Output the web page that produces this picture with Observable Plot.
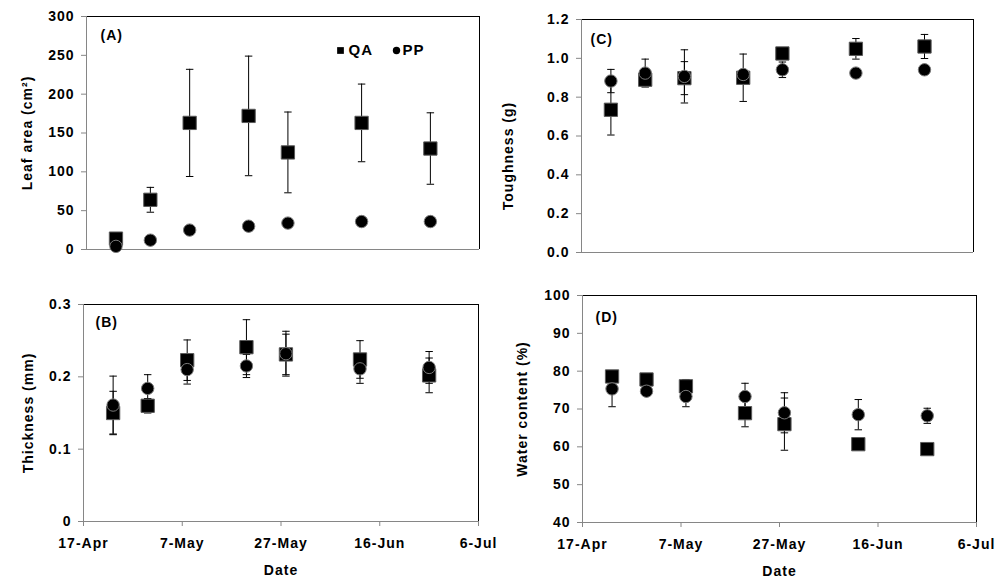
<!DOCTYPE html>
<html><head><meta charset="utf-8">
<script src="https://cdn.jsdelivr.net/npm/d3@7"></script>
<script src="https://cdn.jsdelivr.net/npm/@observablehq/plot@0.6"></script>
<style>
body{margin:0;background:#fff;}
#wrap{position:relative;width:1004px;height:582px;overflow:hidden;background:#fff;}
#wrap svg{position:absolute;}
#wrap svg text{letter-spacing:1px;}
</style></head><body><div id="wrap"></div>
<script>
// ---- data ----
const dates = ["2013-04-23","2013-04-30","2013-05-08","2013-05-20","2013-05-28","2013-06-12","2013-06-26"];
const xTickDates = ["2013-04-17","2013-05-07","2013-05-27","2013-06-16","2013-07-06"];
const seriesNames = ["QA", "PP"];

const leafQA   = [14, 64, 163, 172, 125, 163, 130];
const leafQAsd = [4, 16, 69, 77, 52, 50, 46];
const leafPP   = [4, 12, 25, 30, 34, 36, 36];
const leafPPsd = [2, 2, 3, 6, 4, 3, 3];
const leafTicks = [0, 50, 100, 150, 200, 250, 300];

const thickQA   = [0.150, 0.160, 0.223, 0.241, 0.231, 0.224, 0.202];
const thickQAsd = [0.030, 0.010, 0.028, 0.038, 0.028, 0.026, 0.024];
const thickPP   = [0.161, 0.184, 0.210, 0.215, 0.232, 0.211, 0.213];
const thickPPsd = [0.040, 0.019, 0.020, 0.016, 0.031, 0.020, 0.022];
const thickTicks = [0, 0.1, 0.2, 0.3];

const toughQA   = [0.735, 0.890, 0.898, 0.900, 1.025, 1.049, 1.061];
const toughQAsd = [0.130, 0.030, 0.085, 0.122, 0.030, 0.053, 0.062];
const toughPP   = [0.883, 0.924, 0.907, 0.917, 0.941, 0.924, 0.941];
const toughPPsd = [0.060, 0.072, 0.137, 0.010, 0.040, 0.010, 0.010];
const toughTicks = [0, 0.2, 0.4, 0.6, 0.8, 1.0, 1.2];

const waterQA   = [78.6, 77.8, 76.0, 68.9, 66.0, 60.7, 59.4];
const waterQAsd = [1.0, 1.0, 1.8, 3.6, 6.9, 1.0, 0.5];
const waterPP   = [75.3, 74.7, 73.3, 73.3, 69.0, 68.5, 68.2];
const waterPPsd = [4.7, 1.0, 2.7, 3.5, 5.3, 4.0, 2.0];
const waterTicks = [40, 50, 60, 70, 80, 90, 100];

// ---- drawing ----
const GRAY = "#868686";
const FONT = "Liberation Sans, Arial, sans-serif";
const capSymbol = {draw(ctx, size) { const w = Math.sqrt(size) / 2; ctx.moveTo(-w, 0); ctx.lineTo(w, 0); }};
const xTicks = xTickDates.map(d => new Date(d));
const xDomain = [xTicks[0], xTicks[xTicks.length - 1]];
const fmtDate = d3.utcFormat("%-d-%b");

function panel(o) {
  const rows = dates.map((d, i) => ({date: new Date(d), qa: o.qa[i], qaSd: o.qaSd[i], pp: o.pp[i], ppSd: o.ppSd[i]}));
  const marks = [
    Plot.ruleY([o.yDomain[1]], {stroke: "black"}),
    Plot.ruleX([xDomain[1]], {stroke: "black"}),
    Plot.ruleY([o.yDomain[0]], {stroke: GRAY}),
    Plot.ruleX([xDomain[0]], {stroke: GRAY}),
    Plot.axisY({ticks: o.yTicks, tickFormat: o.yFormat, tickSize: 5, tickPadding: 7, stroke: GRAY, fill: "black", label: null, fontSize: 14, fontWeight: "bold"}),
  ];
  if (o.showX) {
    marks.push(Plot.axisX({ticks: xTicks, tickFormat: fmtDate, tickSize: 5, tickPadding: 12, stroke: GRAY, fill: "black", label: null, fontSize: 14, fontWeight: "bold"}));
    marks.push(Plot.text(["Date"], {text: d => d, frameAnchor: "bottom", dy: 49, textAnchor: "middle", lineAnchor: "middle", fontSize: 14, fontWeight: "bold"}));
  }
  // error bars (beneath markers)
  for (const k of ["qa", "pp"]) {
    const sd = k + "Sd";
    marks.push(Plot.ruleX(rows, {x: "date", y1: d => d[k] - d[sd], y2: d => d[k] + d[sd], stroke: "black", strokeWidth: 1}));
    marks.push(Plot.dot(rows, {x: "date", y: d => d[k] + d[sd], symbol: capSymbol, r: 4.2, stroke: "black", fill: "none", strokeWidth: 1}));
    marks.push(Plot.dot(rows, {x: "date", y: d => d[k] - d[sd], symbol: capSymbol, r: 4.2, stroke: "black", fill: "none", strokeWidth: 1}));
  }
  marks.push(Plot.dot(rows, {x: "date", y: "qa", symbol: "square", r: 7.5, fill: "black", stroke: "#5a5a5a", strokeWidth: 1}));
  marks.push(Plot.dot(rows, {x: "date", y: "pp", symbol: "circle", r: 6.2, fill: "black", stroke: "#7a7a7a", strokeWidth: 1}));
  marks.push(Plot.text([o.label], {text: d => d, frameAnchor: "top-left", dx: o.labelDx, dy: o.labelDy, textAnchor: "start", lineAnchor: "middle", fontSize: 14, fontWeight: "bold"}));
  marks.push(Plot.text([o.yTitle], {text: d => d, frameAnchor: "left", rotate: -90, dx: o.titleDx, dy: o.titleDy || 0, textAnchor: "middle", lineAnchor: "middle", fontSize: 14, fontWeight: "bold"}));
  if (o.legend) {
    marks.push(Plot.dot([0], {frameAnchor: "top-left", dx: 254, dy: 34, symbol: "square", r: 3.8, fill: "black"}));
    marks.push(Plot.text([seriesNames[0]], {text: d => d, frameAnchor: "top-left", dx: 262, dy: 34, textAnchor: "start", lineAnchor: "middle", fontSize: 15, fontWeight: "bold"}));
    marks.push(Plot.dot([0], {frameAnchor: "top-left", dx: 310, dy: 34, symbol: "circle", r: 3.7, fill: "black"}));
    marks.push(Plot.text([seriesNames[1]], {text: d => d, frameAnchor: "top-left", dx: 316, dy: 34, textAnchor: "start", lineAnchor: "middle", fontSize: 15, fontWeight: "bold"}));
  }
  const svg = Plot.plot({
    width: o.width, height: o.height,
    marginTop: o.m[0], marginRight: o.m[1], marginBottom: o.m[2], marginLeft: o.m[3],
    x: {type: "utc", domain: xDomain, axis: null},
    y: {domain: o.yDomain, axis: null},
    style: {fontFamily: FONT, fontSize: "14px", fontWeight: "bold", color: "black", background: "transparent", overflow: "visible"},
    marks
  });
  svg.style.left = o.left + "px";
  svg.style.top = o.top + "px";
  document.getElementById("wrap").appendChild(svg);
}

panel({left: 0, top: 0, width: 502, height: 270, m: [16, 23, 21, 86], yDomain: [0, 300], yTicks: leafTicks, yFormat: d3.format("d"),
  yTitle: "Leaf area (cm²)", titleDx: -59, label: "(A)", labelDx: 14, labelDy: 19.5,
  qa: leafQA, qaSd: leafQAsd, pp: leafPP, ppSd: leafPPsd, showX: false, legend: true});
panel({left: 0, top: 270, width: 502, height: 312, m: [34, 24, 61, 83], yDomain: [0, 0.3], yTicks: thickTicks, yFormat: d => d === 0 ? "0" : d3.format(".1f")(d),
  yTitle: "Thickness (mm)", titleDx: -55, label: "(B)", labelDx: 12, labelDy: 18,
  qa: thickQA, qaSd: thickQAsd, pp: thickPP, ppSd: thickPPsd, showX: true});
panel({left: 500, top: 0, width: 504, height: 270, m: [19, 31, 18, 81], yDomain: [0, 1.2], yTicks: toughTicks, yFormat: d3.format(".1f"),
  yTitle: "Toughness (g)", titleDx: -73, titleDy: 20, label: "(C)", labelDx: 9, labelDy: 20,
  qa: toughQA, qaSd: toughQAsd, pp: toughPP, ppSd: toughPPsd, showX: false});
panel({left: 500, top: 270, width: 504, height: 312, m: [25, 28, 60, 82], yDomain: [40, 100], yTicks: waterTicks, yFormat: d3.format("d"),
  yTitle: "Water content (%)", titleDx: -60, label: "(D)", labelDx: 13, labelDy: 22,
  qa: waterQA, qaSd: waterQAsd, pp: waterPP, ppSd: waterPPsd, showX: true});
</script></body></html>
